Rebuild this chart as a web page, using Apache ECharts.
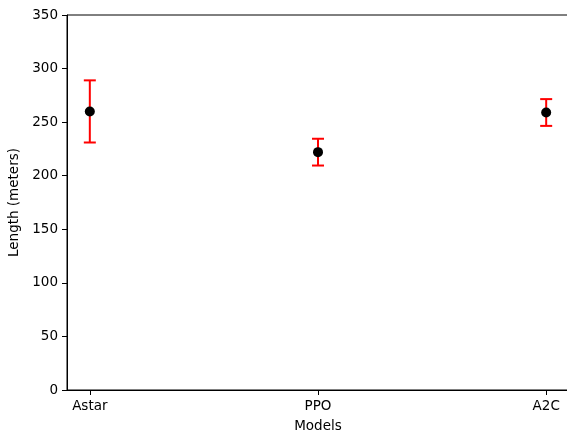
<!DOCTYPE html>
<html>
<head>
<meta charset="utf-8">
<script src="https://cdn.jsdelivr.net/npm/echarts@6/dist/echarts.min.js"></script>
<style>
  html, body { margin: 0; padding: 0; background: #fff; }
  #chart { width: 567px; height: 434px; }
</style>
</head>
<body>
<div id="chart"></div>
<script>
// values
var models = ['Astar', 'PPO', 'A2C'];
var meanLength = [260, 222, 259];
var errLength = [29, 12.5, 12.5];
var yTicks = [0, 50, 100, 150, 200, 250, 300, 350];

var font = 'DejaVu Sans';

var points = models.map(function (m, i) { return [i, meanLength[i]]; });
var bars = models.map(function (m, i) {
    return [i, meanLength[i] - errLength[i], meanLength[i] + errLength[i]];
});

var chart = echarts.init(document.getElementById('chart'));

chart.setOption({
    animation: false,
    // right spine falls just outside the picture in the reference
    grid: {
        left: 67, top: 15, right: -2, bottom: 44,
        outerBoundsMode: 'none',
        containLabel: false,
        show: true, borderColor: '#000', borderWidth: 1, backgroundColor: 'transparent'
    },
    xAxis: {
        type: 'value',
        min: -0.1,
        max: 2.1,
        name: 'Models',
        nameLocation: 'middle',
        nameGap: 29,
        nameTextStyle: { color: '#000', fontFamily: font, fontSize: 13.5 },
        axisLine: { onZero: false, lineStyle: { color: '#000', width: 1 } },
        axisTick: { length: 5, customValues: [0, 1, 2], lineStyle: { color: '#000' } },
        axisLabel: {
            customValues: [0, 1, 2],
            formatter: function (v) { return models[Math.round(v)]; },
            color: '#000', fontFamily: font, fontSize: 13.5, margin: 9
        },
        splitLine: { show: false }
    },
    yAxis: {
        type: 'value',
        min: yTicks[0],
        max: yTicks[yTicks.length - 1],
        interval: 50,
        name: 'Length (meters)',
        nameLocation: 'middle',
        nameGap: 44,
        nameTextStyle: { color: '#000', fontFamily: font, fontSize: 13.5 },
        axisLine: { show: true, onZero: false, lineStyle: { color: '#000', width: 1 } },
        axisTick: { show: true, length: 5, lineStyle: { color: '#000' } },
        axisLabel: { color: '#000', fontFamily: font, fontSize: 13.5, margin: 9 },
        splitLine: { show: false }
    },
    series: [
        {
            type: 'custom',
            data: bars,
            renderItem: function (params, api) {
                var x = api.value(0);
                var lo = api.coord([x, api.value(1)]);
                var hi = api.coord([x, api.value(2)]);
                var cap = 6;
                var style = { stroke: '#ff0000', lineWidth: 2 };
                return {
                    type: 'group',
                    children: [
                        { type: 'line', shape: { x1: lo[0], y1: lo[1], x2: hi[0], y2: hi[1] }, style: style },
                        { type: 'line', shape: { x1: lo[0] - cap, y1: lo[1], x2: lo[0] + cap, y2: lo[1] }, style: style },
                        { type: 'line', shape: { x1: hi[0] - cap, y1: hi[1], x2: hi[0] + cap, y2: hi[1] }, style: style }
                    ]
                };
            },
            z: 2
        },
        {
            type: 'scatter',
            data: points,
            symbol: 'circle',
            symbolSize: 10,
            itemStyle: { color: '#000', opacity: 1 },
            z: 3
        }
    ]
});
</script>
</body>
</html>
